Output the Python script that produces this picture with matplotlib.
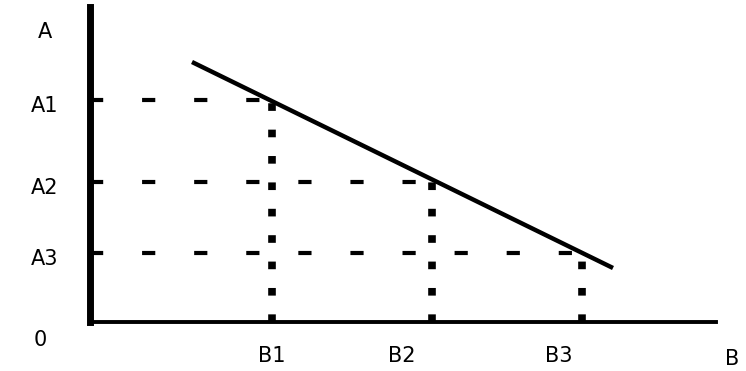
import matplotlib
matplotlib.use('Agg')
import matplotlib.pyplot as plt

plt.rcParams['font.family'] = ['DejaVu Sans']
plt.rcParams['lines.scale_dashes'] = False

# quantities (axis units)
b_vals = [1.82, 3.42, 4.92]
a_vals = [2.22, 1.40, 0.69]
a_names = ['A1', 'A2', 'A3']
b_names = ['B1', 'B2', 'B3']
line_x = [1.02, 5.23]
line_y = [2.60, 0.54]

W, H = 746, 371
fig = plt.figure(figsize=(W / 100, H / 100), dpi=100)
ax = fig.add_axes([90 / W, 49 / H, 626 / W, 315 / H])
ax.set_xlim(0, 6.26)
ax.set_ylim(0, 3.15)

for s in ['top', 'right']:
    ax.spines[s].set_visible(False)
ax.spines['left'].set_linewidth(5)
ax.spines['bottom'].set_linewidth(2.8)
ax.set_xticks([])
ax.set_yticks([])

# guide lines
for b, a in zip(b_vals, a_vals):
    ax.plot([0, b], [a, a], color='black', lw=3, dashes=(9.5, 28), solid_capstyle='butt')
    ax.plot([b, b], [0, a], color='black', lw=5.5, dashes=(5.5, 13.5), solid_capstyle='butt')

# downward line
ax.plot(line_x, line_y, color='black', lw=3.2, solid_capstyle='butt')

fs = 15
for a, name in zip(a_vals, a_names):
    ax.text(-0.45, a - 0.06, name, ha='center', va='center', fontsize=fs)
label_x = [1.82, 3.12, 4.69]
for x, name in zip(label_x, b_names):
    ax.text(x, -0.34, name, ha='center', va='center', fontsize=fs)
ax.text(-0.45, 2.9, 'A', ha='center', va='center', fontsize=fs)
ax.text(-0.50, -0.18, '0', ha='center', va='center', fontsize=fs)
ax.text(6.42, -0.37, 'B', ha='center', va='center', fontsize=fs)

for t in ax.texts:
    t.set_clip_on(False)

fig.savefig('out.png', dpi=100)
